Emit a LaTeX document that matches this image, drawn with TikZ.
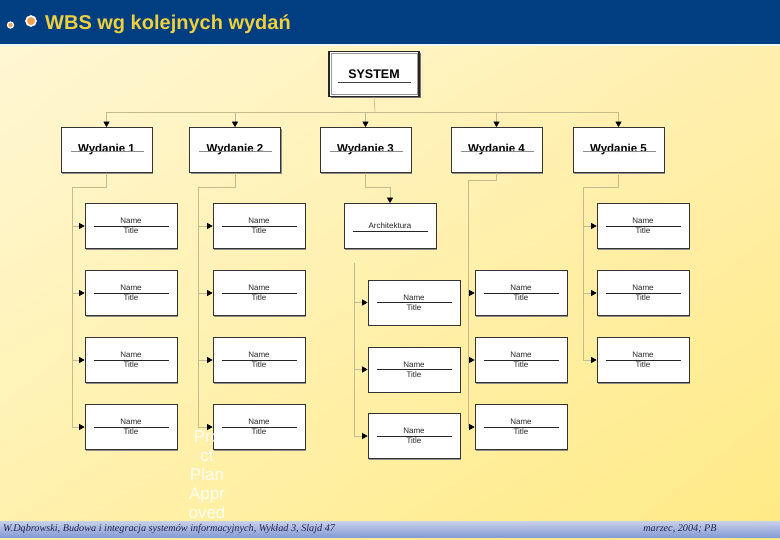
\documentclass[tikz,border=0pt]{standalone}
\usepackage{fontspec}
\setmainfont{Liberation Sans}
\newfontfamily\footfont{Liberation Serif}
\usetikzlibrary{arrows.meta,shadows,calc,shadings}
\definecolor{hdr}{RGB}{0,62,130}
\definecolor{ttl}{RGB}{240,208,60}
\definecolor{conn}{RGB}{196,186,140}
\definecolor{bul}{RGB}{240,160,80}
\definecolor{foot}{RGB}{30,35,80}
\definecolor{bgA}{RGB}{255,247,215}
\definecolor{bgB}{RGB}{255,240,178}
\definecolor{bgC}{RGB}{255,241,172}
\definecolor{bgD}{RGB}{255,234,132}
\definecolor{bandtop}{RGB}{200,208,232}
\definecolor{bandbot}{RGB}{132,154,214}
\tikzset{
  conn/.style={draw=conn, line width=0.7pt},
  arr/.style={-{Triangle[width=6pt,length=5.5pt,color=black]}},
  boxshadow/.style={general shadow={fill=black!45, shadow xshift=1.2pt, shadow yshift=-1.2pt}},
  ntbox/.style={draw=black!80, fill=white, line width=0.7pt, minimum width=92pt, minimum height=45pt, inner sep=0pt, boxshadow},
  wbox/.style={draw=black!80, fill=white, line width=0.7pt, minimum width=91pt, minimum height=45pt, inner sep=0pt, font=\fontsize{11.5}{13}\selectfont\bfseries, boxshadow},
  sysbox/.style={draw=black!85, fill=white, line width=1.3pt, minimum width=90pt, minimum height=45pt, inner sep=0pt, font=\fontsize{12.5}{14}\selectfont\bfseries, general shadow={fill=black!55, shadow xshift=1.5pt, shadow yshift=-1.5pt}},
  smalltxt/.style={inner sep=0pt, font=\fontsize{8}{9}\selectfont, text=black!85},
  sepline/.style={draw=black!85, line width=0.6pt},
  uline/.style={draw=black!45, line width=0.5pt},
  ghost/.style={inner sep=0pt, align=center, text=white, text opacity=0.85, font=\fontsize{17}{19}\selectfont},
  foottxt/.style={inner sep=0pt, text=foot, font=\footfont\itshape\fontsize{10.2}{12}\selectfont}
}
\newcommand\ntb[3]{%
  \node[ntbox] (#1) at (#2,#3) {};
  \draw[sepline] ($(#1.west)+(9,0)$) -- ($(#1.east)+(-8,0)$);
  \node[smalltxt] (#1n) at ($(#1.center)+(0,-5)$) {Name};
  \node[smalltxt] (#1t) at ($(#1.center)+(0,5)$) {Title};
}
\begin{document}
\begin{tikzpicture}[x=1pt,y=-1pt]
\useasboundingbox (0,0) rectangle (780,540);
% background
\shade[upper left=bgA, upper right=bgB, lower left=bgC, lower right=bgD] (0,0) rectangle (780,540);
% header
\fill[hdr] (0,0) rectangle (780,44.5);
\fill[cyan!8] (0,44.5) rectangle (780,46);
\fill[bul, draw=white, line width=1.3pt] (10.5,25) circle (3pt);
\fill[bul, draw=white, line width=1.6pt] (31,21) circle (5pt);
\node[anchor=base west, inner sep=0pt, text=ttl, font=\fontsize{20}{24}\selectfont\bfseries] (title) at (45,30) {WBS wg kolejnych wydań};
% footer band
\shade[top color=bandtop, bottom color=bandbot] (0,521) rectangle (780,537.5);
\node[foottxt, anchor=base west] (fl) at (3,531) {W.Dąbrowski, Budowa i integracja systemów informacyjnych, Wykład 3, Slajd 47};
\node[foottxt, anchor=base] (fr) at (680,531) {marzec, 2004; PB};

% SYSTEM
\node[sysbox] (sys) at (374,74) {SYSTEM};
\draw[draw=black!40, line width=0.5pt] ($(sys.north west)+(2.5,2.5)$) rectangle ($(sys.south east)+(-2.5,-2.5)$);
\draw[draw=black!75, line width=0.7pt] ($(sys.center)+(-36,8)$) -- ($(sys.center)+(37,8)$);

% Wydanie boxes
\node[wbox] (w1) at (106.5,150) {Wydanie 1};
\node[wbox] (w2) at (235,150) {Wydanie 2};
\node[wbox] (w3) at (365.5,150) {Wydanie 3};
\node[wbox] (w4) at (496.5,150) {Wydanie 4};
\node[wbox] (w5) at (618.5,150) {Wydanie 5};
\foreach \w in {w1,w2,w3,w4,w5}{
  \draw[uline] ($(\w.center)+(-36,1.5)$) -- ($(\w.center)+(37,1.5)$);
}

% bus
\coordinate (bus) at (375,112);
\coordinate (bL) at (106.5,112);
\coordinate (bR) at (618.5,112);
\draw[conn] (sys.south) -- (bus);
\draw[conn] (bL) -- (bR);
\foreach \w in {w1,w2,w3,w4,w5}{
  \draw[conn,arr] (\w.north |- bus) -- (\w.north);
}

% column 1
\ntb{n11}{131}{226}
\ntb{n12}{131}{293}
\ntb{n13}{131}{360}
\ntb{n14}{131}{427}
% column 2
\ntb{n21}{259}{226}
\ntb{n22}{259}{293}
\ntb{n23}{259}{360}
\ntb{n24}{259}{427}
% column 3
\node[ntbox] (arch) at (390,226) {};
\draw[sepline] ($(arch.west)+(9,5)$) -- ($(arch.east)+(-8,5)$);
\node[smalltxt] (archt) at ($(arch.center)+(0,0)$) {Architektura};
\ntb{n31}{414}{302.5}
\ntb{n32}{414}{369.5}
\ntb{n33}{414}{436}
% column 4
\ntb{n41}{521}{293}
\ntb{n42}{521}{360}
\ntb{n43}{521}{427}
% column 5
\ntb{n51}{643}{226}
\ntb{n52}{643}{293}
\ntb{n53}{643}{360}

% column 1 connectors
\coordinate (c1) at (72,187);
\draw[conn] (w1.south) -- (w1.south |- c1) -- (c1) -- (c1 |- n14.west);
\foreach \n in {n11,n12,n13,n14}{ \draw[conn,arr] (c1 |- \n.west) -- (\n.west); }
% column 2
\coordinate (c2) at (198,187);
\draw[conn] (w2.south) -- (w2.south |- c2) -- (c2) -- (c2 |- n24.west);
\foreach \n in {n21,n22,n23,n24}{ \draw[conn,arr] (c2 |- \n.west) -- (\n.west); }
% column 3
\coordinate (c3) at (390,187);
\draw[conn] (w3.south) -- (w3.south |- c3) -- (c3);
\draw[conn,arr] (c3) -- (arch.north);
\coordinate (c3t) at (354,263);
\draw[conn] (c3t) -- (c3t |- n33.west);
\foreach \n in {n31,n32,n33}{ \draw[conn,arr] (c3t |- \n.west) -- (\n.west); }
% column 4
\coordinate (c4) at (468,180);
\draw[conn] (w4.south) -- (w4.south |- c4) -- (c4) -- (c4 |- n43.west);
\foreach \n in {n41,n42,n43}{ \draw[conn,arr] (c4 |- \n.west) -- (\n.west); }
% column 5
\coordinate (c5) at (583,187);
\draw[conn] (w5.south) -- (w5.south |- c5) -- (c5) -- (c5 |- n53.west);
\foreach \n in {n51,n52,n53}{ \draw[conn,arr] (c5 |- \n.west) -- (\n.west); }

% ghost text
\node[ghost] (ppa) at (207,475) {Pro\\ct\\Plan\\Appr\\oved};
\end{tikzpicture}
\end{document}
